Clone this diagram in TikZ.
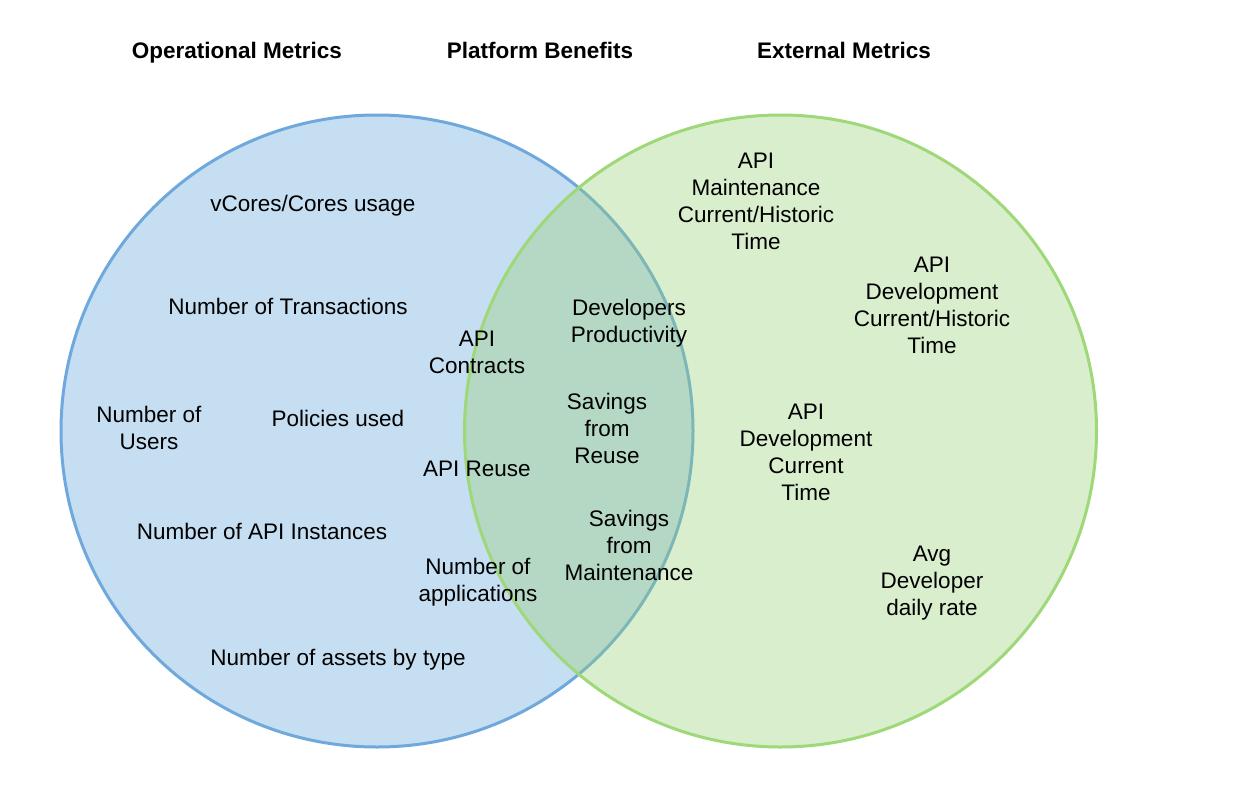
\documentclass[tikz,border=0pt]{standalone}
\usepackage{fontspec}
\setmainfont{Liberation Sans}
\definecolor{bluefill}{HTML}{C6DEF1}
\definecolor{bluestroke}{HTML}{6FA8DC}
\definecolor{greenbase}{HTML}{97D077}
\definecolor{greenstroke}{HTML}{9ED878}
\newcommand{\Sx}{\strut}
\begin{document}
\begin{tikzpicture}[x=1pt,y=-1pt,
  lbl/.style={align=center,inner sep=0pt,yshift=-2.6pt,font=\fontsize{22.5}{27}\selectfont},
  ttl/.style={inner sep=0pt,yshift=-2.6pt,font=\fontsize{22.5}{27}\selectfont\bfseries}]
\useasboundingbox (0,0) rectangle (1250,808);
\fill[white] (0,0) rectangle (1250,808);
\path[fill=bluefill,draw=bluestroke,line width=3pt] (377,431) circle[radius=316];
\path[fill=greenbase,fill opacity=0.36,draw=greenstroke,line width=3pt] (780.5,431) circle[radius=316];
\node[ttl] (t1) at (237,51) {\Sx Operational Metrics};
\node[ttl] (t2) at (540,51) {\Sx Platform Benefits};
\node[ttl] (t3) at (844,51) {\Sx External Metrics};
\node[lbl] (a1) at (313,203) {\Sx vCores/Cores usage};
\node[lbl] (a2) at (288,306) {\Sx Number of Transactions};
\node[lbl] (a3) at (149,428) {\Sx Number of\\\Sx Users};
\node[lbl] (a4) at (338,418) {\Sx Policies used};
\node[lbl] (a5) at (262,531) {\Sx Number of API Instances};
\node[lbl] (a6) at (338,657) {\Sx Number of assets by type};
\node[lbl] (b1) at (477,352) {\Sx API\\\Sx Contracts};
\node[lbl] (b2) at (477,468) {\Sx API Reuse};
\node[lbl] (b3) at (478,580) {\Sx Number of\\\Sx applications};
\node[lbl] (c1) at (629,321) {\Sx Developers\\\Sx Productivity};
\node[lbl] (c2) at (607,428) {\Sx Savings\\\Sx from\\\Sx Reuse};
\node[lbl] (c3) at (629,545) {\Sx Savings\\\Sx from\\\Sx Maintenance};
\node[lbl] (d1) at (756,201) {\Sx API\\\Sx Maintenance\\\Sx Current/Historic\\\Sx Time};
\node[lbl] (d2) at (932,305) {\Sx API\\\Sx Development\\\Sx Current/Historic\\\Sx Time};
\node[lbl] (d3) at (806,452) {\Sx API\\\Sx Development\\\Sx Current\\\Sx Time};
\node[lbl] (d4) at (932,580) {\Sx Avg\\\Sx Developer\\\Sx daily rate};
\end{tikzpicture}
\end{document}
